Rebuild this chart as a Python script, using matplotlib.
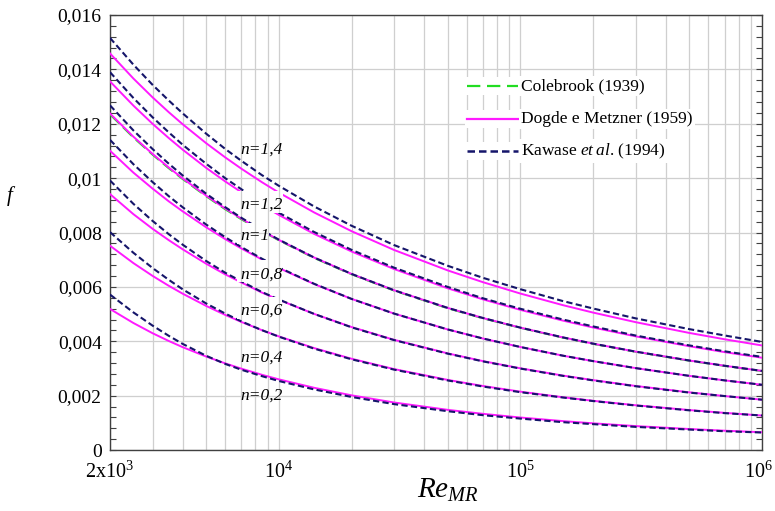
import numpy as np
import matplotlib
matplotlib.use("Agg")
import matplotlib.pyplot as plt
from matplotlib.path import Path
from matplotlib.lines import Line2D
from matplotlib.patches import Rectangle
from matplotlib.ticker import FixedLocator, NullFormatter
from matplotlib.transforms import ScaledTranslation

plt.rcParams['font.family'] = ['Liberation Serif', 'DejaVu Serif']
plt.rcParams['mathtext.fontset'] = 'custom'
plt.rcParams['mathtext.rm'] = 'Liberation Serif'
plt.rcParams['mathtext.it'] = 'Liberation Serif:italic'

# Reynolds number (Metzner-Reed) sample points
re_mr = [2000, 2500, 3000, 3500, 4000, 5000, 6000, 7000, 8500, 1e4, 1.4e4, 2e4,
         3e4, 5e4, 7e4, 1e5, 1.5e5, 2e5, 3e5, 5e5, 7e5, 1e6]

# flow behaviour index for each family of curves
n_values = [1.4, 1.2, 1.0, 0.8, 0.6, 0.4, 0.2]
n_labels = ["n=1,4", "n=1,2", "n=1", "n=0,8", "n=0,6", "n=0,4", "n=0,2"]

# Dodge & Metzner (1959) Fanning friction factor
f_dodge = {
    1.4: [.014586, .013663, .012972, .012427, .011981, .011286, .010762, .010345, .009853, .009467, .008737,
          .008048, .007357, .006606, .006172, .005754, .005327, .005054, .004702, .004306, .004073, .003845],
    1.2: [.013557, .012667, .011999, .011475, .011046, .010379, .009877, .009480, .009011, .008646, .007948,
          .007301, .006656, .005948, .005540, .005154, .004759, .004505, .004180, .003817, .003600, .003394],
    1.0: [.012376, .011524, .010891, .010392, .009988, .009357, .008881, .008509, .008071, .007727, .007079,
          .006476, .005875, .005226, .004854, .004500, .004141, .003912, .003618, .003292, .003099, .002909],
    0.8: [.011008, .010202, .009616, .009148, .008777, .008193, .007757, .007412, .007009, .006694, .006103,
          .005557, .005017, .004434, .004100, .003788, .003469, .003269, .003012, .002727, .002561, .002399],
    0.6: [.009413, .008674, .008137, .007720, .007381, .006853, .006459, .006161, .005792, .005525, .005005,
          .004522, .004052, .003554, .003269, .003005, .002737, .002570, .002355, .002121, .001984, .001851],
    0.4: [.007514, .006874, .006405, .006041, .005749, .005300, .004968, .004709, .004409, .004178, .003748,
          .003356, .002976, .002578, .002354, .002146, .001940, .001810, .001646, .001469, .001366, .001268],
    0.2: [.005187, .004671, .004296, .004011, .003782, .003438, .003186, .002991, .002768, .002598, .002288,
          .002011, .001747, .001477, .001330, .001195, .001063, .000981, .000880, .000772, .000710, .000653],
}

# Kawase et al. (1994)
f_kawase = {
    1.4: [.015156, .014173, .013432, .012857, .012381, .011636, .011072, .010635, .010113, .009717, .008957,
          .008248, .007537, .006776, .006332, .005914, .005477, .005204, .004842, .004446, .004213, .003975],
    1.2: [.013897, .012947, .012239, .011685, .011226, .010529, .009997, .009590, .009101, .008726, .008018,
          .007361, .006706, .005998, .005580, .005194, .004799, .004545, .004210, .003847, .003630, .003424],
    1.0: [.012676, .011754, .011071, .010532, .010098, .009427, .008931, .008539, .008091, .007737, .007079,
          .006476, .005875, .005226, .004854, .004500, .004141, .003912, .003618, .003292, .003099, .002909],
    0.8: [.011408, .010512, .009856, .009338, .008927, .008293, .007827, .007462, .007039, .006714, .006113,
          .005557, .005017, .004434, .004100, .003788, .003469, .003269, .003012, .002727, .002561, .002399],
    0.6: [.009913, .009054, .008427, .007940, .007551, .006953, .006519, .006201, .005812, .005535, .005005,
          .004512, .004042, .003544, .003259, .002995, .002727, .002560, .002345, .002111, .001984, .001851],
    0.4: [.008014, .007254, .006695, .006261, .005909, .005390, .005018, .004729, .004409, .004168, .003728,
          .003336, .002956, .002558, .002334, .002126, .001930, .001800, .001636, .001459, .001356, .001268],
    0.2: [.005717, .005061, .004576, .004201, .003902, .003466, .003166, .002951, .002718, .002538, .002228,
          .001951, .001687, .001427, .001280, .001155, .001023, .000951, .000850, .000752, .000690, .000643],
}

# Colebrook (1939), Newtonian case only
f_colebrook = [.01234, .01149, .01086, .01036, .00996, .00933, .00885, .00848, .00805, .00771, .00706,
               .00646, .00586, .00521, .00484, .00449, .00413, .00390, .00361, .00328, .00309, .00290]

ytick_values = [0, 0.002, 0.004, 0.006, 0.008, 0.010, 0.012, 0.014, 0.016]
ytick_labels = ["0", "0,002", "0,004", "0,006", "0,008", "0,01", "0,012", "0,014", "0,016"]
xtick_values = [2000, 1e4, 1e5, 1e6]
xtick_labels = [r"2x10$^{3}$", r"10$^{4}$", r"10$^{5}$", r"10$^{6}$"]

C_KAW = "#15156a"
C_DM = "#ff1aff"
C_COL = "#22dd22"

W, H = 775, 511
fig = plt.figure(figsize=(W / 100, H / 100), dpi=100)
ax = fig.add_axes([110 / W, 61 / H, 652 / W, 435 / H])
ax.set_xscale("log")
ax.set_xlim(2000, 1e6)
ax.set_ylim(0, 0.016)


def px_to_data(x, y):
    re = 2000 * 10 ** ((x - 110) / 652 * np.log10(1e6 / 2000))
    f = (450 - y) / 435 * 0.016
    return re, f


# areas kept free of curves behind the n labels (pixel boxes)
label_boxes = [
    (237, 283, 191.5, 213),
    (237, 268.5, 223, 244),
    (237, 282, 260, 282),
    (237, 282, 297, 319),
]

verts, codes = [], []
outer = [(1000, -0.01), (2e6, -0.01), (2e6, 0.03), (1000, 0.03)]
verts += outer + [outer[0]]
codes += [Path.MOVETO, Path.LINETO, Path.LINETO, Path.LINETO, Path.CLOSEPOLY]
for x0, x1, yt, yb in label_boxes:
    r0, fb = px_to_data(x0, yb)
    r1, ft = px_to_data(x1, yt)
    hole = [(r0, fb), (r0, ft), (r1, ft), (r1, fb)]
    verts += hole + [hole[0]]
    codes += [Path.MOVETO, Path.LINETO, Path.LINETO, Path.LINETO, Path.CLOSEPOLY]
clip = Path(verts, codes)

lines = []
lines += ax.plot(re_mr, f_colebrook, color=C_COL, lw=1.3, dashes=(7, 3), zorder=3)
for n in n_values:
    lines += ax.plot(re_mr, f_dodge[n], color=C_DM, lw=1.4, zorder=4)
for n in n_values:
    lines += ax.plot(re_mr, f_kawase[n], color=C_KAW, lw=1.5, dashes=(3, 1.6), zorder=5)
for ln in lines:
    ln.set_clip_path(clip, ax.transData)

# n labels
label_baselines = [153.3, 208.3, 240, 278.3, 315, 361.7, 400]
for lab, yb in zip(n_labels, label_baselines):
    re0, f0 = px_to_data(240, yb)
    ax.text(re0, f0, lab, fontsize=12.5, style="italic", ha="left", va="baseline", zorder=6)

# axes decoration
ax.xaxis.set_major_locator(FixedLocator(xtick_values))
ax.set_xticklabels(xtick_labels)
minor_x = [m * 10 ** e for e in range(3, 6) for m in range(2, 10)]
ax.xaxis.set_minor_locator(FixedLocator([v for v in minor_x if v not in xtick_values]))
ax.xaxis.set_minor_formatter(NullFormatter())
ax.tick_params(axis="x", which="both", length=0, pad=8, labelsize=14.5)
last = ax.get_xticklabels()[-1]
last.set_transform(last.get_transform() + ScaledTranslation(-4 / 100, 0, fig.dpi_scale_trans))

ax.yaxis.set_major_locator(FixedLocator(ytick_values))
ax.set_yticklabels(ytick_labels)
ax.yaxis.set_minor_locator(FixedLocator(np.arange(0, 0.01601, 0.0004)))
ax.tick_params(axis="y", which="both", direction="in", length=4, width=0.8,
               color="#404040", left=True, right=True, labelsize=14, pad=6)

ax.grid(True, which="both", axis="x", color="#cfcfcf", lw=0.9, zorder=0)
ax.grid(True, which="major", axis="y", color="#cfcfcf", lw=0.9, zorder=0)
ax.set_axisbelow(True)
for sp in ax.spines.values():
    sp.set_color("#404040")
    sp.set_linewidth(1.0)

# legend with a white strip behind each row
legend_rows = [
    ("Colebrook (1939)", C_COL, dict(lw=1.6, dashes=(6, 3))),
    ("Dogde e Metzner (1959)", C_DM, dict(lw=1.6)),
    (r"$\mathrm{Kawase}\ \mathit{et\>al.}\,\mathrm{(1994)}$", C_KAW, dict(lw=1.8, dashes=(3, 1.6))),
]
row_y = [86, 119, 151]
for (txt, col, kw), y in zip(legend_rows, row_y):
    ya = (450 - y) / 435
    ax.add_patch(Rectangle(((465 - 110) / 652, ya - 9 / 435), 58 / 652, 18 / 435,
                           transform=ax.transAxes, facecolor="white", edgecolor="none", zorder=6))
    ax.add_line(Line2D([(467 - 110) / 652, (518 - 110) / 652], [ya, ya], color=col,
                       transform=ax.transAxes, zorder=7, **kw))
    ax.text((521 - 110) / 652, ya, txt, transform=ax.transAxes, fontsize=12.5,
            ha="left", va="center", zorder=7,
            bbox=dict(facecolor="white", edgecolor="none", pad=1.5))

fig.text(10 / W, 1 - 196 / H, "f", fontsize=15, style="italic", ha="center", va="center")
fig.text(448 / W, 1 - 490 / H, r"$Re_{MR}$", fontsize=21, ha="center", va="center")

fig.savefig("out.png", dpi=100)
